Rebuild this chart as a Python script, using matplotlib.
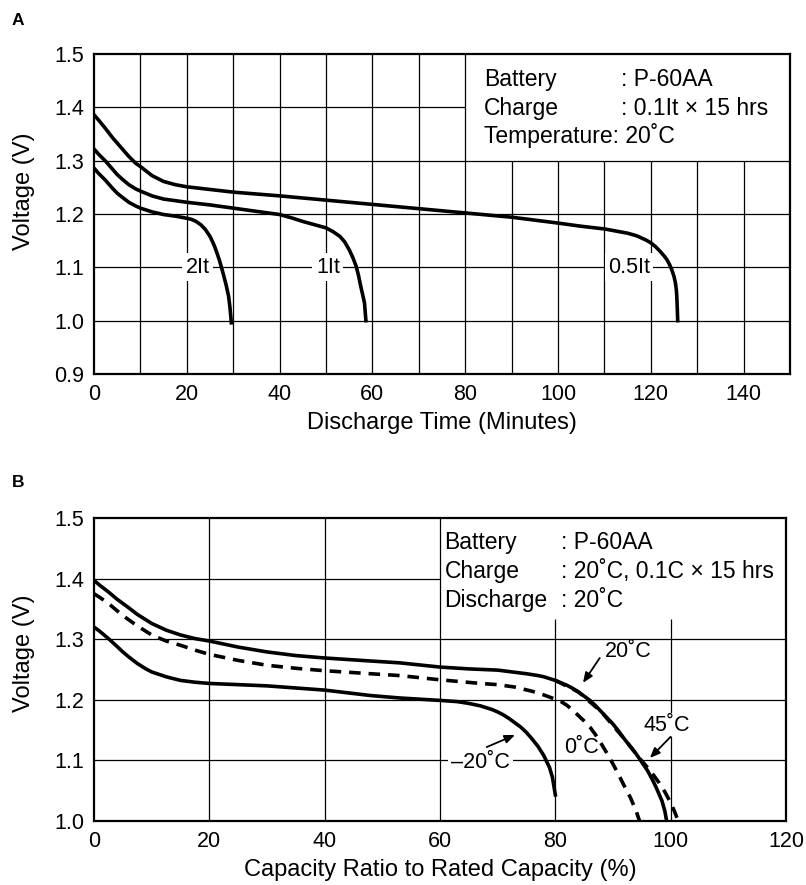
import matplotlib
matplotlib.use("Agg")
import matplotlib.pyplot as plt

plt.rcParams['font.family'] = ['Liberation Sans', 'DejaVu Sans']

# ---- panel A: voltage vs discharge time (minutes) at three rates
t_2it = [0, 1, 2.5, 4, 5, 6, 7.5, 9, 10, 12.5, 15, 17.5, 20, 21, 22, 23, 24, 25,
         25.5, 26, 26.5, 27, 27.5, 28, 28.5, 29, 29.3, 29.6]
v_2it = [1.286, 1.276, 1.263, 1.248, 1.239, 1.232, 1.222, 1.215, 1.211, 1.204,
         1.199, 1.196, 1.192, 1.190, 1.186, 1.180, 1.171, 1.158, 1.149, 1.139,
         1.127, 1.114, 1.099, 1.083, 1.066, 1.046, 1.025, 0.996]
t_1it = [0, 1, 2.5, 4, 5, 6, 7.5, 9, 10, 12.5, 15, 17.5, 20, 25, 30, 35, 40, 42.5,
         45, 47.5, 50, 51.5, 53, 54, 55, 55.8, 56.5, 57, 57.5, 58, 58.3, 58.6]
v_1it = [1.322, 1.312, 1.299, 1.284, 1.274, 1.266, 1.255, 1.247, 1.243, 1.234,
         1.228, 1.225, 1.222, 1.217, 1.211, 1.205, 1.199, 1.193, 1.186, 1.180,
         1.174, 1.167, 1.158, 1.148, 1.133, 1.118, 1.102, 1.085, 1.064, 1.045,
         1.033, 1.0]
t_05it = [0, 1, 2.5, 4, 5, 6, 7.5, 9, 10, 12.5, 15, 17.5, 20, 25, 30, 40, 50, 60,
          70, 80, 90, 100, 105, 110, 112.5, 115, 117, 118, 119, 120, 121, 122, 123,
          123.5, 124, 124.5, 125, 125.3, 125.5, 125.6, 125.7, 125.8]
v_05it = [1.386, 1.376, 1.36, 1.343, 1.333, 1.323, 1.308, 1.295, 1.289, 1.272,
          1.261, 1.255, 1.251, 1.246, 1.241, 1.234, 1.226, 1.218, 1.210, 1.202,
          1.194, 1.183, 1.177, 1.172, 1.168, 1.164, 1.159, 1.155, 1.151, 1.146,
          1.139, 1.130, 1.120, 1.114, 1.106, 1.096, 1.083, 1.071, 1.058, 1.046,
          1.025, 1.0]
rate_labels = ['2It', '1It', '0.5It']
rate_label_x = [22.4, 50.4, 115.3]

# ---- panel B: voltage vs capacity ratio (%) at four temperatures
c_20 = [0, 1, 2.5, 4, 5, 6, 7.5, 9, 10, 12.5, 15, 17.5, 20, 25, 30, 35, 40, 48,
        53, 60, 65, 70, 75, 77, 78, 79, 80, 81, 82, 83, 84, 85, 86, 87, 88, 89,
        90, 91, 92, 93, 94, 95, 96, 97, 97.5, 98, 98.5, 99, 99.3]
v_20 = [1.397, 1.389, 1.378, 1.366, 1.359, 1.352, 1.341, 1.332, 1.326, 1.315,
        1.307, 1.301, 1.297, 1.287, 1.279, 1.273, 1.269, 1.264, 1.261, 1.254,
        1.251, 1.249, 1.243, 1.240, 1.238, 1.235, 1.232, 1.228, 1.224, 1.219,
        1.213, 1.206, 1.199, 1.190, 1.180, 1.170, 1.160, 1.148, 1.135, 1.123,
        1.111, 1.097, 1.083, 1.065, 1.055, 1.044, 1.033, 1.016, 1.0]
c_0 = [0, 1, 2.5, 4, 5, 7.5, 10, 12.5, 15, 17.5, 20, 25, 30, 35, 40, 48, 53, 60,
       67, 70, 73, 76, 78, 80, 81, 82, 83, 84, 85, 86, 87, 88, 89, 90, 91, 92,
       93, 93.5, 94, 94.6]
v_0 = [1.375, 1.369, 1.359, 1.347, 1.339, 1.322, 1.307, 1.297, 1.290, 1.282,
       1.275, 1.265, 1.257, 1.252, 1.248, 1.243, 1.240, 1.233, 1.227, 1.225,
       1.221, 1.214, 1.208, 1.201, 1.197, 1.191, 1.183, 1.174, 1.165, 1.155,
       1.142, 1.127, 1.111, 1.094, 1.076, 1.057, 1.039, 1.028, 1.017, 1.0]
# 45 C runs under the 20 C line and only shows near the end
c_45 = [80, 84, 88, 92, 94, 95, 96, 97, 98, 99, 100, 100.7, 101.3]
v_45 = [1.232, 1.213, 1.180, 1.135, 1.111, 1.099, 1.088, 1.076, 1.063, 1.048,
        1.030, 1.015, 1.0]
c_m20 = [0, 1, 2.5, 4, 5, 6, 7.5, 9, 10, 12.5, 15, 17.5, 20, 30, 40, 48, 53, 60,
         63, 65, 67, 68, 69, 70, 71, 72, 73, 74, 75, 76, 77, 78, 79, 79.5, 80]
v_m20 = [1.320, 1.313, 1.301, 1.288, 1.279, 1.271, 1.260, 1.251, 1.246, 1.238,
         1.232, 1.229, 1.227, 1.223, 1.216, 1.207, 1.203, 1.199, 1.197, 1.194,
         1.190, 1.187, 1.184, 1.180, 1.175, 1.169, 1.162, 1.155, 1.146, 1.135,
         1.123, 1.108, 1.088, 1.072, 1.043]

LW = 2.6
DEG = '\u02da'
fig = plt.figure(figsize=(8.06, 8.85), dpi=100)

# ================= panel A =================
axA = fig.add_axes([94/806, 1-374/885, 696/806, 320/885])
axA.set_xlim(0, 150)
axA.set_ylim(0.9, 1.5)
# grid, leaving the info box (x 80-150, y 1.3-1.5) empty
for x in range(10, 150, 10):
    ymax = 1.5 if x <= 80 else 1.3
    axA.vlines(x, 0.9, ymax, color='black', lw=0.9, zorder=1)
for y in [1.0, 1.1, 1.2, 1.3]:
    axA.hlines(y, 0, 150, color='black', lw=0.9, zorder=1)
axA.hlines(1.4, 0, 80, color='black', lw=0.9, zorder=1)

for t, v in [(t_2it, v_2it), (t_1it, v_1it), (t_05it, v_05it)]:
    axA.plot(t, v, color='black', lw=LW, zorder=3, solid_joinstyle='round')
for lab, x in zip(rate_labels, rate_label_x):
    axA.text(x, 1.1, lab, fontsize=15.5, ha='center', va='center', zorder=4,
             bbox=dict(fc='white', ec='none', pad=2.5))

axA.text(84, 1.44, 'Battery', fontsize=16.5, va='baseline')
axA.text(113.6, 1.44, ': P-60AA', fontsize=16.5, va='baseline')
axA.text(84, 1.386, 'Charge', fontsize=16.5, va='baseline')
axA.text(113.6, 1.386, ': 0.1It \u00d7 15 hrs', fontsize=16.5, va='baseline')
axA.text(84, 1.333, 'Temperature: 20' + DEG + 'C', fontsize=16.5, va='baseline')

axA.set_xticks(range(0, 141, 20))
axA.set_yticks([0.9, 1.0, 1.1, 1.2, 1.3, 1.4, 1.5])
axA.set_yticklabels(['0.9', '1.0', '1.1', '1.2', '1.3', '1.4', '1.5'])
axA.tick_params(length=0, labelsize=15.5, pad=7)
axA.set_xlabel('Discharge Time (Minutes)', fontsize=17, labelpad=5)
axA.set_ylabel('Voltage (V)', fontsize=17)
axA.yaxis.set_label_coords(-0.085, 0.57)
for s in axA.spines.values():
    s.set_linewidth(1.6)

fig.text(12/806, 1-25/885, 'A', fontsize=12.5, fontweight='bold')

# ================= panel B =================
axB = fig.add_axes([94/806, 1-821/885, 692/806, 303/885])
axB.set_xlim(0, 120)
axB.set_ylim(1.0, 1.5)
for x in [20, 40, 60]:
    axB.vlines(x, 1.0, 1.5, color='black', lw=0.9, zorder=1)
for x in [80, 100]:
    axB.vlines(x, 1.0, 1.333, color='black', lw=0.9, zorder=1)
for y in [1.1, 1.2, 1.3]:
    axB.hlines(y, 0, 120, color='black', lw=0.9, zorder=1)
axB.hlines(1.4, 0, 60, color='black', lw=0.9, zorder=1)

axB.plot(c_45, v_45, color='black', lw=LW, dashes=(3.2, 2.2), zorder=3)
axB.plot(c_20, v_20, color='black', lw=LW, zorder=3, solid_joinstyle='round')
axB.plot(c_0, v_0, color='black', lw=LW, dashes=(3.2, 2.2), zorder=3)
axB.plot(c_m20, v_m20, color='black', lw=LW, zorder=3, solid_joinstyle='round')

arrow = dict(arrowstyle='-|>,head_length=0.6,head_width=0.25', color='black',
             lw=1.3, shrinkA=0, shrinkB=0)
axB.text(92.7, 1.279, '20' + DEG + 'C', fontsize=15.5, ha='center', va='center', zorder=4)
axB.annotate('', xy=(84.8, 1.228), xytext=(87.7, 1.269), arrowprops=arrow, zorder=4)
axB.text(99.3, 1.158, '45' + DEG + 'C', fontsize=15.5, ha='center', va='center', zorder=4,
         bbox=dict(fc='white', ec='none', pad=1))
axB.annotate('', xy=(96.4, 1.104), xytext=(100.0, 1.139), arrowprops=arrow, zorder=4)
axB.text(84.6, 1.122, '0' + DEG + 'C', fontsize=15.5, ha='center', va='center', zorder=4)
axB.text(67.0, 1.097, '\u201320' + DEG + 'C', fontsize=15.5, ha='center', va='center',
         zorder=4, bbox=dict(fc='white', ec='none', pad=2))
axB.annotate('', xy=(73.0, 1.142), xytext=(68.1, 1.122), arrowprops=arrow, zorder=4)

axB.text(60.8, 1.449, 'Battery', fontsize=16.5, va='baseline')
axB.text(81.0, 1.449, ': P-60AA', fontsize=16.5, va='baseline')
axB.text(60.8, 1.401, 'Charge', fontsize=16.5, va='baseline')
axB.text(81.0, 1.401, ': 20' + DEG + 'C, 0.1C \u00d7 15 hrs', fontsize=16.5, va='baseline')
axB.text(60.8, 1.353, 'Discharge', fontsize=16.5, va='baseline')
axB.text(81.0, 1.353, ': 20' + DEG + 'C', fontsize=16.5, va='baseline')

axB.set_xticks(range(0, 121, 20))
axB.set_yticks([1.0, 1.1, 1.2, 1.3, 1.4, 1.5])
axB.set_yticklabels(['1.0', '1.1', '1.2', '1.3', '1.4', '1.5'])
axB.tick_params(length=0, labelsize=15.5, pad=7)
axB.set_xlabel('Capacity Ratio to Rated Capacity (%)', fontsize=17, labelpad=5)
axB.set_ylabel('Voltage (V)', fontsize=17)
axB.yaxis.set_label_coords(-0.085, 0.554)
for s in axB.spines.values():
    s.set_linewidth(1.6)

fig.text(12/806, 1-487/885, 'B', fontsize=12.5, fontweight='bold')

fig.savefig('out.png', dpi=100)
